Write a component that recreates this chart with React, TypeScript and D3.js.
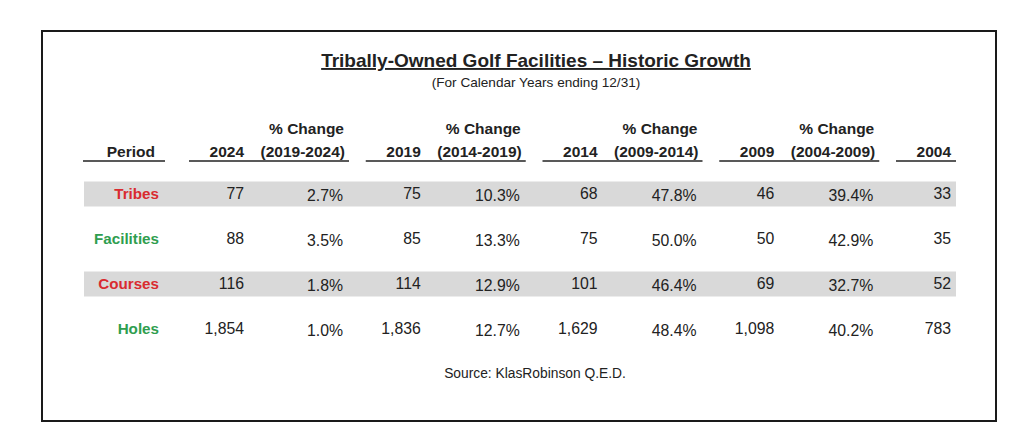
import React from "react";
import * as d3 from "d3";

const categories = ["Tribes", "Facilities", "Courses", "Holes"];
const categoryColors = ["#d92b30", "#2f9e4f", "#d92b30", "#2f9e4f"];
const shaded = [true, false, true, false];
const years = ["2024", "2019", "2014", "2009", "2004"];
const changeLabels = ["(2019-2024)", "(2014-2019)", "(2009-2014)", "(2004-2009)"];

const tribes = [77, 75, 68, 46, 33];
const tribesChange = [2.7, 10.3, 47.8, 39.4];
const facilities = [88, 85, 75, 50, 35];
const facilitiesChange = [3.5, 13.3, 50.0, 42.9];
const courses = [116, 114, 101, 69, 52];
const coursesChange = [1.8, 12.9, 46.4, 32.7];
const holes = [1854, 1836, 1629, 1098, 783];
const holesChange = [1.0, 12.7, 48.4, 40.2];

const rowValues = [tribes, facilities, courses, holes];
const rowChanges = [tribesChange, facilitiesChange, coursesChange, holesChange];

const title = "Tribally-Owned Golf Facilities \u2013 Historic Growth";
const subtitle = "(For Calendar Years ending 12/31)";
const source = "Source: KlasRobinson Q.E.D.";

const FONT = "'Liberation Sans', Arial, Helvetica, sans-serif";

export default function App() {
  const W = 1024;
  const H = 441;
  const xYear = d3.scaleLinear().domain([0, years.length - 1]).range([244, 951]);
  const xPct = (i: number) => xYear(i) + 101;
  const yRow = d3.scaleLinear().domain([0, categories.length - 1]).range([199, 334]);
  const fmtNum = d3.format(",");
  const fmtPct = (v: number) => d3.format(".1f")(v) + "%";
  const text = "#222";
  const labelRight = 159;
  const tableLeft = 84;
  const tableRight = 956;

  return (
    <svg
      width={W}
      height={H}
      style={{ position: "absolute", left: 0, top: 0, background: "#fff" }}
      fontFamily={FONT}
    >
      <rect x={0} y={0} width={W} height={H} fill="#fff" />
      <rect x={42} y={31} width={954} height={390} fill="none" stroke="#1a1a1a" strokeWidth={2} />

      <text
        x={536}
        y={67}
        textAnchor="middle"
        fontSize={19}
        fontWeight="bold"
        fill={text}
        textDecoration="underline"
      >
        {title}
      </text>
      <text x={536} y={87} textAnchor="middle" fontSize={13.6} fill={text}>
        {subtitle}
      </text>

      {/* Header */}
      <text x={155} y={157} textAnchor="end" fontSize={15.5} fontWeight="bold" fill={text}>
        Period
      </text>
      <line x1={83} x2={165} y1={161} y2={161} stroke={text} strokeWidth={1.6} />
      {years.map((yr, i) => {
        const hasPct = i < changeLabels.length;
        const x0 = xYear(i) - 55;
        const x1 = hasPct ? xPct(i) + 4 : xYear(i) + 5;
        return (
          <g key={yr}>
            <text x={xYear(i)} y={157} textAnchor="end" fontSize={15.5} fontWeight="bold" fill={text}>
              {yr}
            </text>
            {hasPct && (
              <>
                <text x={xPct(i) - 1} y={134} textAnchor="end" fontSize={15.5} fontWeight="bold" fill={text}>
                  % Change
                </text>
                <text x={xPct(i)} y={157} textAnchor="end" fontSize={15.5} fontWeight="bold" fill={text}>
                  {changeLabels[i]}
                </text>
              </>
            )}
            <line x1={x0} x2={x1} y1={161} y2={161} stroke={text} strokeWidth={1.6} />
          </g>
        );
      })}

      {/* Rows */}
      {categories.map((cat, r) => {
        const y = yRow(r);
        return (
          <g key={cat}>
            {shaded[r] && (
              <rect x={tableLeft} y={y - 17.5} width={tableRight - tableLeft} height={25} fill="#d9d9d9" />
            )}
            <text x={labelRight} y={y} textAnchor="end" fontSize={15.2} fontWeight="bold" fill={categoryColors[r]}>
              {cat}
            </text>
            {rowValues[r].map((v, i) => (
              <text key={"v" + i} x={xYear(i)} y={y} textAnchor="end" fontSize={15.8} fill={text}>
                {fmtNum(v)}
              </text>
            ))}
            {rowChanges[r].map((v, i) => (
              <text key={"p" + i} x={xPct(i) - 2} y={y + 1.5} textAnchor="end" fontSize={15.8} fill={text}>
                {fmtPct(v)}
              </text>
            ))}
          </g>
        );
      })}

      <text x={535} y={378} textAnchor="middle" fontSize={13.8} fill={text}>
        {source}
      </text>
    </svg>
  );
}
